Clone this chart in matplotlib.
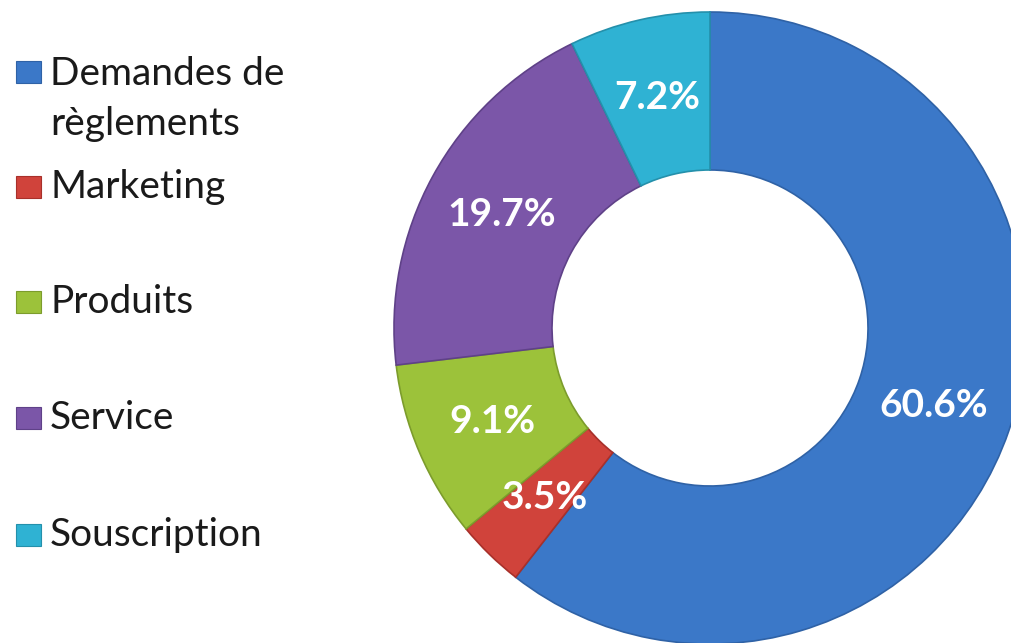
import matplotlib.pyplot as plt
from matplotlib.patches import Rectangle

categories = ["Demandes de\nrèglements", "Marketing", "Produits", "Service", "Souscription"]
values = [60.6, 3.5, 9.1, 19.7, 7.2]
colors = ["#3b78c8", "#d0433b", "#9cc23a", "#7b56a8", "#2fb2d3"]
edges = ["#2f62a6", "#a8302a", "#7c9c2c", "#5f4188", "#2490ab"]
legend_y = [72, 187, 302, 418, 535]  # pixel rows of legend entries

plt.rcParams["font.family"] = ["Lato", "DejaVu Sans"]

W, H = 1011, 643
fig = plt.figure(figsize=(W / 100, H / 100), dpi=100)

# donut: centre (710, 328), radius 316 px
cx, cy, r = 710, 328, 316
ax = fig.add_axes([(cx - r) / W, (H - cy - r) / H, 2 * r / W, 2 * r / H])
wedges, texts, autotexts = ax.pie(
    values, colors=colors, startangle=90, counterclock=False,
    radius=1, pctdistance=0.75, autopct="%.1f%%",
    wedgeprops=dict(width=0.5, linewidth=1.2),
    textprops=dict(color="white", fontsize=28, fontweight="bold"))
for w, e in zip(wedges, edges):
    w.set_edgecolor(e)
for t, v in zip(autotexts, values):
    t.set_text(f"{v:.1f}%")
ax.set_xlim(-1, 1)
ax.set_ylim(-1, 1)
ax.axis("off")

# legend drawn by hand (Excel style, marker on first line)
for lab, c, e, y in zip(categories, colors, edges, legend_y):
    fig.patches.append(Rectangle((16 / W, 1 - (y + 11) / H), 25 / W, 22 / H,
                                 transform=fig.transFigure, facecolor=c,
                                 edgecolor=e, linewidth=0.8))
    if "\n" in lab:
        fig.text(50 / W, 1 - (y - 16) / H, lab, fontsize=28, color="#1a1a1a",
                 va="top", linespacing=1.5)
    else:
        fig.text(50 / W, 1 - y / H, lab, fontsize=28, color="#1a1a1a",
                 va="center")

fig.savefig("out.png", dpi=100)
